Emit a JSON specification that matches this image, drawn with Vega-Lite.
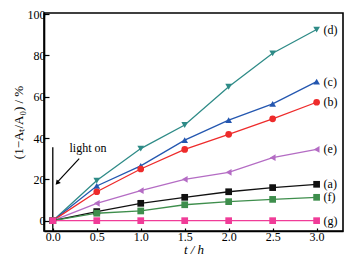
{
  "$schema": "https://vega.github.io/schema/vega-lite/v6.json",
  "width": 299,
  "height": 218,
  "autosize": {"type": "none"},
  "padding": {"left": 44, "top": 13, "right": 16, "bottom": 31},
  "background": "white",
  "config": {
    "view": {"stroke": "black", "strokeWidth": 1.6},
    "font": "Liberation Serif",
    "axis": {"grid": false, "domainColor": "black", "domainWidth": 1.6, "tickColor": "black", "tickWidth": 1.2, "labelColor": "black", "titleColor": "black", "labelFont": "Liberation Serif", "titleFont": "Liberation Serif", "labelFontSize": 12, "titleFontSize": 13, "titleFontWeight": "normal"}
  },
  "datasets": {
    "pts": [
      {"t": 0, "v": 0, "s": "(d)"}, {"t": 0.5, "v": 19.4, "s": "(d)"}, {"t": 1.0, "v": 34.9, "s": "(d)"}, {"t": 1.5, "v": 46.3, "s": "(d)"}, {"t": 2.0, "v": 64.8, "s": "(d)"}, {"t": 2.5, "v": 81.0, "s": "(d)"}, {"t": 3.0, "v": 92.5, "s": "(d)"},
      {"t": 0, "v": 0, "s": "(c)"}, {"t": 0.5, "v": 16.8, "s": "(c)"}, {"t": 1.0, "v": 26.5, "s": "(c)"}, {"t": 1.5, "v": 39.0, "s": "(c)"}, {"t": 2.0, "v": 48.7, "s": "(c)"}, {"t": 2.5, "v": 56.5, "s": "(c)"}, {"t": 3.0, "v": 67.3, "s": "(c)"},
      {"t": 0, "v": 0, "s": "(b)"}, {"t": 0.5, "v": 14.0, "s": "(b)"}, {"t": 1.0, "v": 25.0, "s": "(b)"}, {"t": 1.5, "v": 34.5, "s": "(b)"}, {"t": 2.0, "v": 41.8, "s": "(b)"}, {"t": 2.5, "v": 49.3, "s": "(b)"}, {"t": 3.0, "v": 57.3, "s": "(b)"},
      {"t": 0, "v": 0, "s": "(e)"}, {"t": 0.5, "v": 8.4, "s": "(e)"}, {"t": 1.0, "v": 14.5, "s": "(e)"}, {"t": 1.5, "v": 20.0, "s": "(e)"}, {"t": 2.0, "v": 23.4, "s": "(e)"}, {"t": 2.5, "v": 30.5, "s": "(e)"}, {"t": 3.0, "v": 34.5, "s": "(e)"},
      {"t": 0, "v": 0, "s": "(a)"}, {"t": 0.5, "v": 4.4, "s": "(a)"}, {"t": 1.0, "v": 8.4, "s": "(a)"}, {"t": 1.5, "v": 11.3, "s": "(a)"}, {"t": 2.0, "v": 14.0, "s": "(a)"}, {"t": 2.5, "v": 16.0, "s": "(a)"}, {"t": 3.0, "v": 17.6, "s": "(a)"},
      {"t": 0, "v": 0, "s": "(f)"}, {"t": 0.5, "v": 3.6, "s": "(f)"}, {"t": 1.0, "v": 4.7, "s": "(f)"}, {"t": 1.5, "v": 7.7, "s": "(f)"}, {"t": 2.0, "v": 9.2, "s": "(f)"}, {"t": 2.5, "v": 10.3, "s": "(f)"}, {"t": 3.0, "v": 11.3, "s": "(f)"},
      {"t": 0, "v": 0, "s": "(g)"}, {"t": 0.5, "v": 0, "s": "(g)"}, {"t": 1.0, "v": 0, "s": "(g)"}, {"t": 1.5, "v": 0, "s": "(g)"}, {"t": 2.0, "v": 0, "s": "(g)"}, {"t": 2.5, "v": 0, "s": "(g)"}, {"t": 3.0, "v": 0, "s": "(g)"}
    ],
    "light": [{"t": 0, "v": -5, "v2": 35.5}],
    "arrow": [{"t": 0.3, "v": 30, "t2": 0.06, "v2": 19.0}],
    "head": [{"t": 0.05, "v": 18.2}],
    "note": [{"t": 0.4, "v": 35, "label": "light on"}]
  },
  "layer": [
    {
      "data": {"name": "light"},
      "mark": {"type": "rule", "color": "black", "strokeWidth": 1.3},
      "encoding": {
        "x": {"field": "t", "type": "quantitative", "scale": {"domain": [-0.1, 3.3], "nice": false},
          "axis": {"values": [0, 0.5, 1, 1.5, 2, 2.5, 3], "format": ".1f", "tickSize": -3, "labelPadding": 3, "title": "t / h", "titleFontStyle": "italic", "titlePadding": 1, "domain": true}},
        "y": {"field": "v", "type": "quantitative", "scale": {"domain": [-5, 100.5], "nice": false},
          "axis": {"values": [0, 10, 20, 30, 40, 50, 60, 70, 80, 90, 100],
            "labelExpr": "datum.value % 20 == 0 ? datum.label : ''",
            "tickSize": {"condition": {"test": "datum.value % 20 == 0", "value": -5}, "value": -3},
            "labelPadding": 4, "title": "(1−Aₜ/A₀) / %", "titlePadding": 2}},
        "y2": {"field": "v2"}
      }
    },
    {
      "data": {"name": "arrow"},
      "mark": {"type": "rule", "color": "black", "strokeWidth": 1.2},
      "encoding": {
        "x": {"field": "t", "type": "quantitative"},
        "y": {"field": "v", "type": "quantitative"},
        "x2": {"field": "t2"},
        "y2": {"field": "v2"}
      }
    },
    {
      "data": {"name": "head"},
      "mark": {"type": "point", "shape": "triangle-up", "filled": true, "color": "black", "size": 30, "angle": 221, "opacity": 1},
      "encoding": {
        "x": {"field": "t", "type": "quantitative"},
        "y": {"field": "v", "type": "quantitative"}
      }
    },
    {
      "data": {"name": "note"},
      "mark": {"type": "text", "font": "Liberation Serif", "fontSize": 12, "color": "black"},
      "encoding": {
        "x": {"field": "t", "type": "quantitative"},
        "y": {"field": "v", "type": "quantitative"},
        "text": {"field": "label"}
      }
    },
    {
      "data": {"name": "pts"},
      "mark": {"type": "line", "strokeWidth": 1.3},
      "encoding": {
        "x": {"field": "t", "type": "quantitative"},
        "y": {"field": "v", "type": "quantitative"},
        "color": {"field": "s", "type": "nominal", "legend": null,
          "scale": {"domain": ["(a)", "(b)", "(c)", "(d)", "(e)", "(f)", "(g)"], "range": ["#111111", "#ee2b2b", "#2457b0", "#2e8b87", "#b46cc4", "#3e8e4c", "#f03c98"]}}
      }
    },
    {
      "data": {"name": "pts"},
      "mark": {"type": "point", "filled": true, "opacity": 1, "size": 45},
      "encoding": {
        "x": {"field": "t", "type": "quantitative"},
        "y": {"field": "v", "type": "quantitative"},
        "color": {"field": "s", "type": "nominal", "legend": null},
        "shape": {"field": "s", "type": "nominal", "legend": null,
          "scale": {"domain": ["(a)", "(b)", "(c)", "(d)", "(e)", "(f)", "(g)"], "range": ["square", "circle", "triangle-up", "triangle-down", "triangle-left", "square", "square"]}}
      }
    },
    {
      "data": {"name": "pts"},
      "transform": [{"filter": "datum.t == 3"}],
      "mark": {"type": "text", "align": "left", "dx": 7, "font": "Liberation Serif", "fontSize": 12, "color": "black"},
      "encoding": {
        "x": {"field": "t", "type": "quantitative"},
        "y": {"field": "v", "type": "quantitative"},
        "text": {"field": "s"}
      }
    }
  ]
}
